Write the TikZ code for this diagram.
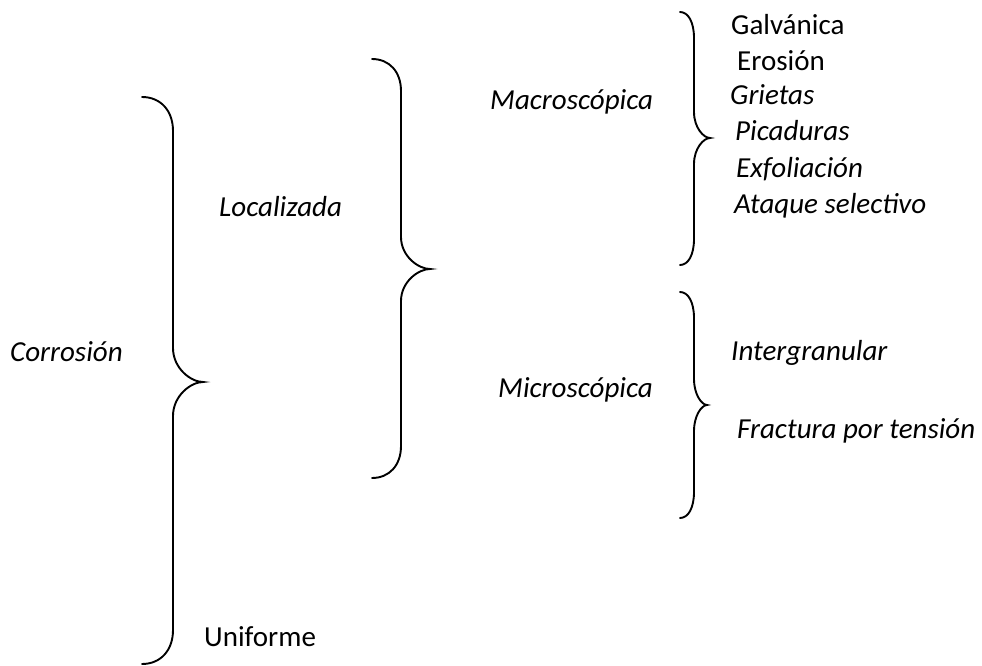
\documentclass[tikz,border=0pt]{standalone}
\usepackage{fontspec}
\setmainfont{Carlito}
\tikzset{
  lbl/.style={anchor=base west, inner sep=0pt, font=\fontsize{29}{34}\selectfont},
  ilbl/.style={lbl, font=\fontsize{29}{34}\selectfont\itshape},
  brc/.style={draw=black, line width=1.9pt, line cap=round}
}
% brace: #1 left x, #2 vertical x, #3 tip x, #4 top y, #5 tip y, #6 bottom y, #7 radius
\newcommand{\mybrace}[7]{%
  \draw[brc] (#1,#4) .. controls ({#1+0.6*(#2-#1)},#4) and (#2,{#4+0.4*#7}) .. (#2,{#4+#7})
    -- (#2,{#5-#7}) .. controls (#2,{#5-0.4*#7}) and ({#3-0.4*(#3-#2)},#5) .. (#3,#5)
    .. controls ({#3-0.4*(#3-#2)},#5) and (#2,{#5+0.4*#7}) .. (#2,{#5+#7})
    -- (#2,{#6-#7}) .. controls (#2,{#6-0.4*#7}) and ({#1+0.6*(#2-#1)},#6) .. (#1,#6);}
\begin{document}
\begin{tikzpicture}[x=1pt,y=-1pt]
\useasboundingbox (0,0) rectangle (982,666);
% braces
\mybrace{142}{173}{203}{97}{382}{664}{34}
\mybrace{372}{401}{430}{59}{269}{478}{32}
\mybrace{680}{694}{710}{12}{138}{265}{26}
\mybrace{680}{694}{707}{292}{405}{518}{26}
% labels
\node[ilbl] (corr) at (10,361) {Corrosión};
\node[ilbl] (loc) at (219,216) {Localizada};
\node[lbl] (unif) at (204,646) {Uniforme};
\node[ilbl] (macro) at (490,110) {Macroscópica};
\node[ilbl] (micro) at (498,397) {Microscópica};
\node[lbl] (galv) at (731,35) {Galvánica};
\node[lbl] (eros) at (737,71) {Erosión};
\node[ilbl] (griet) at (730,105) {Grietas};
\node[ilbl] (pic) at (735,141) {Picaduras};
\node[ilbl] (exf) at (736,177) {Exfoliación};
\node[ilbl] (ataq) at (734,213) {Ataque selectivo};
\node[ilbl] (inter) at (731,360) {Intergranular};
\node[ilbl] (fract) at (737,438) {Fractura por tensión};
\end{tikzpicture}
\end{document}
